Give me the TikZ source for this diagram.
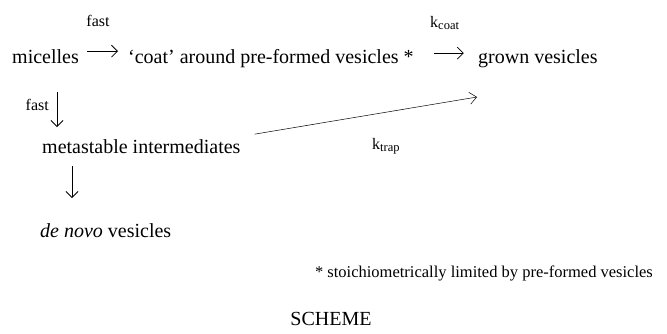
\documentclass[tikz,border=0pt]{standalone}
\usepackage{fontspec}
\setmainfont{Liberation Serif}
\usetikzlibrary{arrows.meta,positioning}

\newcommand{\ratesub}[1]{\raisebox{-0.35ex}{\fontsize{12.5}{14}\selectfont #1}}
\tikzset{species/.style={inner sep=0pt, font=\fontsize{20}{24}\selectfont},
         rate/.style={inner sep=0pt, font=\fontsize{16}{19}\selectfont},
         note/.style={inner sep=0pt, font=\fontsize{16.5}{19}\selectfont},
         react/.style={-{Straight Barb[length=6pt,width=12pt]}, line width=0.8pt},
         trap/.style={-{Straight Barb[length=7pt,width=12pt]}, line width=0.5pt}}

\begin{document}
\begin{tikzpicture}[x=1pt,y=-1pt]
  \useasboundingbox (0,0) rectangle (667,333);
  % species
  \node[species,anchor=base west] (mic) at (12,63) {micelles};
  \node[species,anchor=base west] (coat) at (128,63) {`coat' around pre-formed vesicles *};
  \node[species,anchor=base west] (grown) at (478,63) {grown vesicles};
  \node[species,anchor=base west] (meta) at (42,153) {metastable intermediates};
  \node[species,anchor=base west] (novo) at (40,237) {\textit{de novo} vesicles};
  % rates
  \node[rate,anchor=base] (fast1) at (98,26) {fast};
  \node[rate,anchor=base west] (kcoat) at (430,27) {k\ratesub{coat}};
  \node[rate,anchor=base east] (fast2) at (49,110) {fast};
  \node[rate,anchor=base west] (ktrap) at (372,149) {k\ratesub{trap}};
  \coordinate (trapend) at (477,97);
  % arrows
  \draw[react] (mic.east) ++(8,-5) -- ++(31,0);
  \draw[react] (coat.east) ++(20,-5) -- ++(30,0);
  \draw[react] (57,92) -- (57,127);
  \draw[react] (72,166) -- (72,198);
  \draw[trap] (meta.east) ++(14,-12) -- (trapend);
  % footnote and caption
  \node[note,anchor=base east] (foot) at (653,277) {* stoichiometrically limited by pre-formed vesicles};
  \node[species,anchor=base] (cap) at (331,325) {SCHEME};
\end{tikzpicture}
\end{document}
